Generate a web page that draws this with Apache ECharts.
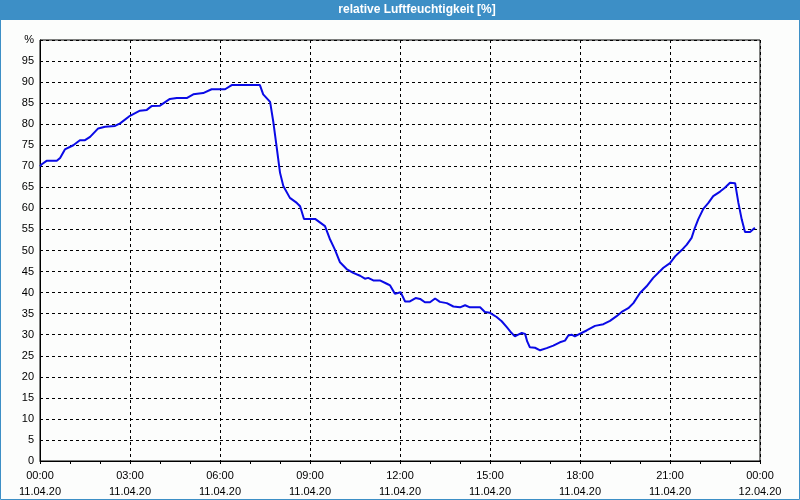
<!DOCTYPE html>
<html>
<head>
<meta charset="utf-8">
<script src="https://cdn.jsdelivr.net/npm/echarts@6/dist/echarts.min.js"></script>
<style>
html,body{margin:0;padding:0;background:#fcfdfc;}
#c{width:800px;height:500px;}
</style>
</head>
<body>
<div id="c"></div>
<script>
var titleText = 'relative Luftfeuchtigkeit [%]';
var xTickHours = [0, 3, 6, 9, 12, 15, 18, 21, 24];
var xTickDates = ['11.04.20','11.04.20','11.04.20','11.04.20','11.04.20','11.04.20','11.04.20','11.04.20','12.04.20'];
var yTopLabel = '%';
var hours = [0,0.06,0.22,0.56,0.67,0.83,1.11,1.33,1.5,1.67,1.94,2.17,2.5,2.67,3.0,3.33,3.56,3.72,4.0,4.33,4.56,4.89,5.11,5.44,5.72,6.17,6.39,7.33,7.44,7.67,7.78,7.89,8.0,8.11,8.33,8.56,8.67,8.8,9.17,9.5,9.67,9.83,10.0,10.22,10.44,10.67,10.83,10.94,11.11,11.33,11.56,11.67,11.83,12.02,12.17,12.33,12.52,12.67,12.83,13.0,13.17,13.33,13.56,13.78,14.0,14.17,14.33,14.67,14.83,15.0,15.22,15.39,15.56,15.72,15.83,15.94,16.06,16.17,16.24,16.33,16.5,16.67,16.89,17.11,17.33,17.5,17.61,17.72,17.83,17.94,18.22,18.5,18.78,19.0,19.22,19.39,19.61,19.78,20.0,20.22,20.44,20.78,21.0,21.17,21.39,21.56,21.72,21.83,21.94,22.11,22.28,22.44,22.67,22.83,23.0,23.17,23.28,23.39,23.5,23.67,23.83];
var humidity = [70,70.5,71.3,71.3,72,74,75,76.2,76.2,77,79,79.4,79.6,80.2,82,83.2,83.4,84.3,84.4,86,86.2,86.2,87.1,87.4,88.3,88.3,89.3,89.3,87.1,85.3,80.4,74.5,68.5,65.3,62.5,61.3,60.5,57.5,57.5,55.8,52.6,50.2,47.2,45.6,44.7,44,43.3,43.5,42.9,42.9,42.1,41.7,39.7,40.1,37.9,37.9,38.7,38.5,37.7,37.7,38.6,37.8,37.5,36.7,36.5,37.0,36.5,36.5,35.4,35.2,34.2,33.2,31.8,30.4,29.6,30,30.4,30.2,28.4,27,26.9,26.3,26.8,27.4,28.2,28.6,29.8,30,29.6,30,31,32.1,32.5,33.3,34.4,35.4,36.3,37.5,39.9,41.5,43.5,45.9,47,48.6,50.1,51.4,53,55.4,57.4,59.9,61.3,62.9,64,64.9,66.1,66,61.3,57.4,54.4,54.4,55.4];

var seriesData = hours.map(function(h, i){ return [h, humidity[i]]; });
function pad(n){ return (n < 10 ? '0' : '') + n; }

var chart = echarts.init(document.getElementById('c'), null, {renderer:'canvas'});
var font = 'Liberation Sans';
chart.setOption({
  animation: false,
  backgroundColor: '#fcfdfc',
  textStyle: {fontFamily: font},
  graphic: [
    {type:'rect', shape:{x:0,y:0,width:800,height:20}, style:{fill:'#3d8fc6'}, silent:true},
    {type:'rect', shape:{x:0.5,y:0.5,width:799,height:499}, style:{fill:null, stroke:'#3d8fc6', lineWidth:1}, silent:true},
    {type:'text', x:417, y:10, style:{text:titleText, fill:'#ffffff', font:'bold 12px "Liberation Sans"', align:'center', verticalAlign:'middle'}, silent:true}
  ],
  grid: {left:40, right:40, top:40, bottom:39, show:true, borderColor:'#000', borderWidth:1, backgroundColor:'transparent'},
  xAxis: {
    type:'value', min:0, max:24, interval:3,
    axisLine:{show:true, lineStyle:{color:'#000', width:1}},
    axisTick:{show:true, length:3, lineStyle:{color:'#000'}},
    minorTick:{show:true, splitNumber:3, length:3, lineStyle:{color:'#000'}},
    splitLine:{show:true, lineStyle:{color:'#000', type:[3,3], width:1}},
    axisLabel:{
      color:'#000', fontSize:11, fontFamily:font, lineHeight:16, margin:7,
      showMinLabel:true, showMaxLabel:true,
      formatter:function(v){
        var i = xTickHours.indexOf(v);
        var h = v % 24;
        return pad(h) + ':00\n' + (i >= 0 ? xTickDates[i] : '');
      }
    }
  },
  yAxis: {
    type:'value', min:0, max:100, interval:5,
    axisLine:{show:true, lineStyle:{color:'#000', width:1}},
    axisTick:{show:false},
    splitLine:{show:true, lineStyle:{color:'#000', type:[3,3], width:1}},
    axisLabel:{
      color:'#000', fontSize:11, fontFamily:font, margin:6,
      formatter:function(v){ return v === 100 ? yTopLabel : String(v); }
    }
  },
  series: [{
    type:'line', data:seriesData, showSymbol:false, symbol:'none',
    lineStyle:{color:'#0a0ae6', width:2}, z:5
  }]
});
</script>
</body>
</html>
